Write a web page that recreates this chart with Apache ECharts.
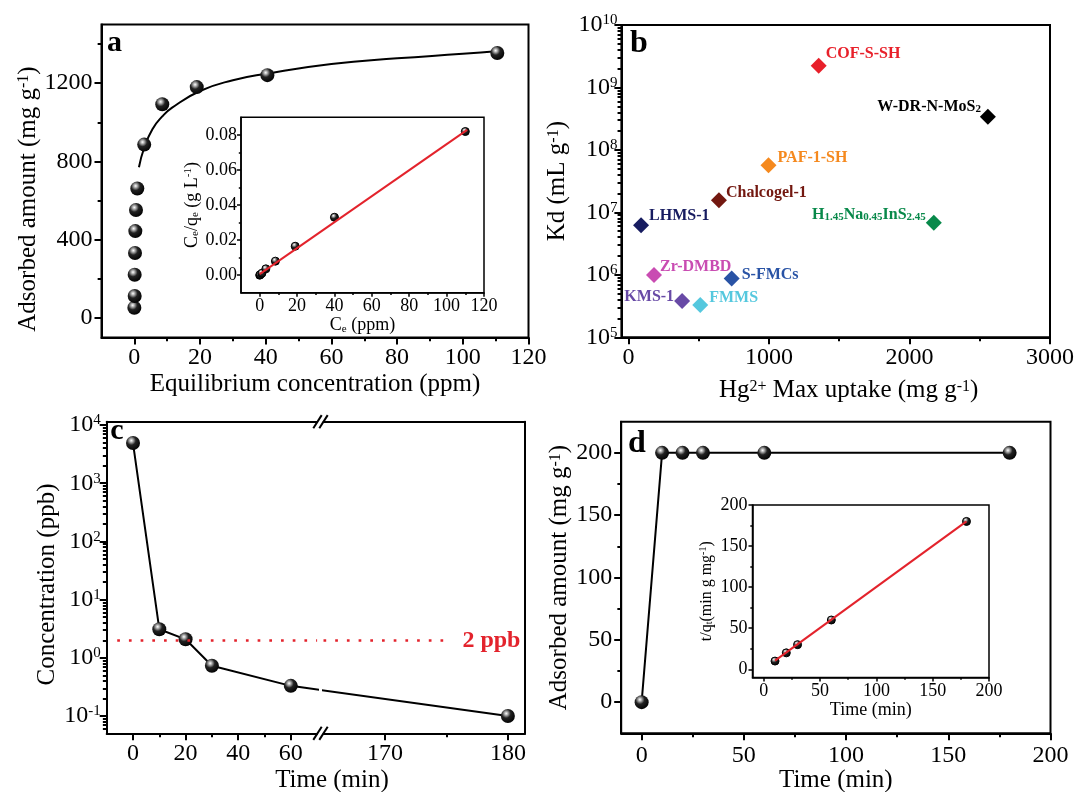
<!DOCTYPE html>
<html>
<head>
<meta charset="utf-8">
<script src="https://cdn.jsdelivr.net/npm/echarts@6/dist/echarts.min.js"></script>
<style>
html, body { margin: 0; padding: 0; background: #fff; }
#chart { width: 1076px; height: 792px; }
</style>
</head>
<body>
<div id="chart"></div>
<script>
// ---------- data ----------
// a: adsorption isotherm
var aCe = [0, 0.1, 0.1, 0.2, 0.3, 0.5, 0.9, 3, 8.5, 19, 40.5, 110.5];
var aQe = [52, 112, 221, 332, 444, 552, 662, 886, 1092, 1180, 1241, 1354];
var aCurveX = [1.4, 3, 5.5, 8.5, 11.5, 20, 30, 40, 60, 80, 100, 111];
var aCurveY = [770, 870, 965, 1030, 1075, 1160, 1215, 1248, 1298, 1327, 1350, 1365];
// a inset: Ce/qe vs Ce
var aInX = [0, 0.3, 1.2, 3.3, 8.4, 19, 40, 110];
var aInY = [0, 0.0003, 0.0011, 0.0036, 0.008, 0.0165, 0.033, 0.0819];
var aFitX = [0, 111];
var aFitY = [0.0006, 0.0828];
// b: Kd vs max uptake
var bNames = ['COF-S-SH', 'W-DR-N-MoS{s|2}', 'PAF-1-SH', 'Chalcogel-1', 'LHMS-1',
  'H{s|1.45}Na{s|0.45}InS{s|2.45}', 'Zr-DMBD', 'S-FMCs', 'KMS-1', 'FMMS'];
var bUptake = [1354, 2558, 997, 644, 90, 2173, 182, 735, 382, 511];
var bKd = [2.23e9, 3.4e8, 5.7e7, 1.57e7, 6.2e6, 6.8e6, 9.9e5, 8.7e5, 3.8e5, 3.3e5];
var bColors = ['#e8202a', '#000000', '#f5891e', '#731810', '#171c60', '#08894a',
  '#c94cb2', '#2953a5', '#684aa6', '#55c8de'];
// c: concentration vs time
var cTime = [0, 10, 20, 30, 60, 180];
var cConc = [4900, 3.1, 2.08, 0.73, 0.33, 0.1];
var cLimit = 2;
// d: uptake vs time
var dTime = [0, 10, 20, 30, 60, 180];
var dQt = [0, 200, 200, 200, 200, 200];
// d inset: t/qt vs t
var dInX = [10, 20, 30, 60, 180];
var dInY = [10, 20, 30, 60, 180];
var dFitX = [10, 180];
var dFitY = [10.5, 180];
// tick labels
var aXTicks = [0, 20, 40, 60, 80, 100, 120];
var aYTicks = [0, 400, 800, 1200];
var aInYTicks = [0, 0.02, 0.04, 0.06, 0.08];
var bXTicks = [0, 1000, 2000, 3000];
var cXTicksL = [0, 20, 40, 60];
var cXTicksR = [170, 180];
var dTicks = [0, 50, 100, 150, 200];

// ---------- helpers ----------
var SERIF = 'Liberation Serif';
var RED = '#e3232c';
var ball = { type: 'radial', x: 0.38, y: 0.32, r: 0.72, colorStops: [
  { offset: 0, color: '#ffffff' }, { offset: 0.16, color: '#b5b5b5' },
  { offset: 0.45, color: '#222222' }, { offset: 1, color: '#000000' }] };

function pairs(xs, ys) { return xs.map(function (x, i) { return [x, ys[i]]; }); }
function mids(t) { var o = []; for (var i = 0; i < t.length - 1; i++) o.push((t[i] + t[i + 1]) / 2); return o; }
function logMajor(lo, hi) {
  var o = [];
  for (var e = Math.ceil(Math.log10(lo) - 1e-9); e <= Math.floor(Math.log10(hi) + 1e-9); e++) o.push(Math.pow(10, e));
  return o;
}
function logMinor(lo, hi) {
  var o = [];
  for (var e = Math.floor(Math.log10(lo)); e <= Math.ceil(Math.log10(hi)); e++)
    for (var m = 2; m <= 9; m++) { var v = m * Math.pow(10, e); if (v > lo && v < hi) o.push(v); }
  return o;
}
function plain(v) { return String(v); }
function pow10(v) { return '10{sup|' + Math.round(Math.log10(v)) + '}'; }
function richFor(fs) {
  return {
    sup: { fontFamily: SERIF, fontSize: Math.round(fs * 0.62), lineHeight: Math.round(fs * 0.62), verticalAlign: 'top', color: '#000' },
    sub: { fontFamily: SERIF, fontSize: Math.round(fs * 0.62), lineHeight: Math.round(fs * 0.62), verticalAlign: 'bottom', color: '#000' }
  };
}

var xAxes = [], yAxes = [];
var minorList = [];
var majorOf = { x: {}, y: {} };
// one axis for the long ticks + labels, a twin axis for the short (minor) ticks
function addAxes(list, o) {
  var dim = list === xAxes ? 'x' : 'y';
  var lw = o.lw || 2, tl = o.tl || 7, fs = o.fs || 24;
  var major = {
    type: o.type || 'value', gridIndex: o.grid, position: o.pos, min: o.min, max: o.max,
    axisLine: { show: true, onZero: false, lineStyle: { color: '#000', width: lw } },
    axisTick: { show: !!o.major, inside: false, length: tl, customValues: o.major, lineStyle: { color: '#000', width: lw } },
    axisLabel: { show: !!o.major, customValues: o.major, margin: o.margin, color: '#000', fontFamily: SERIF, fontSize: fs,
      formatter: o.fmt || plain, rich: richFor(fs) },
    splitLine: { show: false }
  };
  if (o.name) {
    var nfs = o.nameFs || 25;
    major.name = o.name;
    major.nameLocation = 'middle';
    major.nameGap = o.nameGap;
    major.nameTextStyle = { color: '#000', fontFamily: SERIF, fontSize: nfs, rich: richFor(nfs), padding: o.namePad || 0 };
  }
  list.push(major);
  var idx = list.length - 1;
  if (majorOf[dim][o.grid] == null && o.pos !== 'top') majorOf[dim][o.grid] = idx;
  if (o.minor) {
    list.push({
      type: o.type || 'value', gridIndex: o.grid, position: o.pos, min: o.min, max: o.max,
      axisLine: { show: false, onZero: false },
      axisTick: { show: true, inside: false, length: tl * 0.55, customValues: o.minor, lineStyle: { color: '#000', width: lw } },
      axisLabel: { show: false, customValues: o.minor },
      splitLine: { show: false }
    });
    minorList.push({ dim: dim, grid: o.grid, idx: list.length - 1 });
  }
  return idx;
}

// ---------- grids ----------
var frame = { show: true, borderColor: '#000', borderWidth: 2, backgroundColor: '#fff', outerBoundsMode: 'none', containLabel: false };
var gA = { left: 101.5, top: 24.5, width: 427, height: 313 };
var gAi = { left: 241, top: 117.3, width: 243, height: 175.4 };
var gB = { left: 621.4, top: 25, width: 428.6, height: 312.3 };
var gCL = { left: 106.7, top: 421.7, width: 210.4, height: 311.6 };
var gCR = { left: 323.5, top: 421.7, width: 201.6, height: 311.6 };
var gD = { left: 621.2, top: 421.7, width: 429.3, height: 311.6 };
var gDi = { left: 752.5, top: 505, width: 236.5, height: 172.5 };
var grids = [
  Object.assign({}, frame, gA),
  Object.assign({}, frame, gAi, { borderWidth: 1.5 }),
  Object.assign({}, frame, gB),
  Object.assign({ outerBoundsMode: 'none', containLabel: false }, gCL),
  Object.assign({ outerBoundsMode: 'none', containLabel: false }, gCR),
  Object.assign({}, frame, gD),
  Object.assign({}, frame, gDi, { borderWidth: 1.5 })
];

// ---------- axes ----------
var axA = addAxes(xAxes, { grid: 0, pos: 'bottom', min: -10, max: 120, major: aXTicks, minor: mids(aXTicks),
  margin: 8, name: 'Equilibrium concentration (ppm)', nameGap: 34 });
var ayA = addAxes(yAxes, { grid: 0, pos: 'left', min: -100, max: 1500, major: aYTicks, minor: mids(aYTicks).concat([1400]),
  margin: 9, name: 'Adsorbed amount (mg g{sup|-1})', nameGap: 58, namePad: [0, 36, 0, 0] });

var axAi = addAxes(xAxes, { grid: 1, pos: 'bottom', min: -10, max: 120, major: aXTicks, minor: mids(aXTicks),
  margin: 5, tl: 4, lw: 1.5, fs: 18, nameFs: 18, name: 'C{sub|e} (ppm)', nameGap: 18 });
var ayAi = addAxes(yAxes, { grid: 1, pos: 'left', min: -0.01, max: 0.09, major: aInYTicks, minor: mids(aInYTicks),
  margin: 4, tl: 4, lw: 1.5, fs: 18, nameFs: 18, fmt: function (v) { return v.toFixed(2); },
  name: 'C{sub|e}/q{sub|e} (g L{sup|-1})', nameGap: 40 });

var axB = addAxes(xAxes, { grid: 2, pos: 'bottom', min: -50, max: 3000, major: bXTicks, minor: mids(bXTicks),
  margin: 8, name: 'Hg{sup|2+} Max uptake (mg g{sup|-1})', nameGap: 41, namePad: [0, 0, 0, 26] });
var ayB = addAxes(yAxes, { grid: 2, pos: 'left', type: 'log', min: 1e5, max: 1e10, major: logMajor(1e5, 1e10), minor: logMinor(1e5, 1e10),
  margin: 4, fmt: pow10, name: 'Kd (mL g{sup|-1})', nameGap: 51 });

// c: broken time axis made of two grids
var cMin = 0.0505, cMax = 11400;
var cLRange = [-10, 70], cRRange = [165, 181.4];
var axCL = addAxes(xAxes, { grid: 3, pos: 'bottom', min: cLRange[0], max: cLRange[1], major: cXTicksL, minor: mids(cXTicksL), margin: 8 });
addAxes(xAxes, { grid: 3, pos: 'top', min: cLRange[0], max: cLRange[1] });
var ayCL = addAxes(yAxes, { grid: 3, pos: 'left', type: 'log', min: cMin, max: cMax, major: logMajor(cMin, cMax), minor: logMinor(cMin, cMax),
  margin: 6, fmt: pow10, name: 'Concentration (ppb)', nameGap: 42, namePad: [0, 14, 0, 0] });
var axCR = addAxes(xAxes, { grid: 4, pos: 'bottom', min: cRRange[0], max: cRRange[1], major: cXTicksR, minor: mids(cXTicksR), margin: 8 });
addAxes(xAxes, { grid: 4, pos: 'top', min: cRRange[0], max: cRRange[1] });
var ayCR = addAxes(yAxes, { grid: 4, pos: 'right', type: 'log', min: cMin, max: cMax });

// the segment that jumps the break is straight on screen: give it its own hidden x scale in each grid
var cPts = pairs(cTime, cConc);
var cLeftPts = cPts.filter(function (p) { return p[0] <= cLRange[1]; });
var cRightPts = cPts.filter(function (p) { return p[0] >= cRRange[0]; });
var cBridge = [cLeftPts[cLeftPts.length - 1], cRightPts[0]];
function pxOf(g, r, v) { return g.left + (v - r[0]) / (r[1] - r[0]) * g.width; }
var pA = pxOf(gCL, cLRange, cBridge[0][0]), pB = pxOf(gCR, cRRange, cBridge[1][0]);
var slope = (pB - pA) / (cBridge[1][0] - cBridge[0][0]);
var bridgeL = cBridge[0][0] - (pA - gCL.left) / slope;
var bridgeR = cBridge[1][0] - (pB - gCR.left) / slope;
xAxes.push({ type: 'value', gridIndex: 3, show: false, min: bridgeL, max: bridgeL + gCL.width / slope });
var axCLb = xAxes.length - 1;
xAxes.push({ type: 'value', gridIndex: 4, show: false, min: bridgeR, max: bridgeR + gCR.width / slope });
var axCRb = xAxes.length - 1;

var axD = addAxes(xAxes, { grid: 5, pos: 'bottom', min: -10, max: 200, major: dTicks, minor: mids(dTicks),
  margin: 10, name: 'Time (min)', nameGap: 31 });
var ayD = addAxes(yAxes, { grid: 5, pos: 'left', min: -25, max: 225, major: dTicks, minor: mids(dTicks),
  margin: 9, name: 'Adsorbed amount (mg g{sup|-1})', nameGap: 46 });

var axDi = addAxes(xAxes, { grid: 6, pos: 'bottom', min: -10, max: 200, major: dTicks, minor: mids(dTicks),
  margin: 5, tl: 4, lw: 1.5, fs: 18, nameFs: 18, name: 'Time (min)', nameGap: 23 });
var ayDi = addAxes(yAxes, { grid: 6, pos: 'left', min: -10, max: 200, major: dTicks, minor: mids(dTicks),
  margin: 5, tl: 4, lw: 1.5, fs: 18, nameFs: 16, name: 't/q{sub|t}(min g mg{sup|-1})', nameGap: 38 });
majorOf.y[4] = ayCR;

// ---------- panel b points with labels ----------
var bLabelSide = ['right', 'left', 'right', 'right', 'right', 'left', 'right', 'right', 'left', 'right'];
var bLabelOffset = [[-1, -12], [1, -10], [1, -7], [-1, -7], [0, -9], [0, -8], [-2, -8], [2, -4], [0, -4], [1, -7]];
var bData = bUptake.map(function (x, i) {
  return {
    value: [x, bKd[i]],
    itemStyle: { color: bColors[i], opacity: 1 },
    label: {
      show: true, position: bLabelSide[i], distance: 0, offset: bLabelOffset[i],
      formatter: bNames[i], color: bColors[i], fontFamily: SERIF, fontWeight: 'bold', fontSize: 16, opacity: 1,
      rich: { s: { fontFamily: SERIF, fontWeight: 'bold', fontSize: 11, verticalAlign: 'bottom', lineHeight: 11, color: bColors[i] } }
    }
  };
});

var ballStyle = { color: ball, borderWidth: 0, opacity: 1 };
var dotted = { color: RED, width: 2.7, type: [2.7, 9] };

var series = [
  // a
  { type: 'line', xAxisIndex: axA, yAxisIndex: ayA, data: pairs(aCurveX, aCurveY), smooth: true,
    symbol: 'none', lineStyle: { color: '#000', width: 2 }, z: 2 },
  { type: 'scatter', xAxisIndex: axA, yAxisIndex: ayA, data: pairs(aCe, aQe), symbolSize: 14, itemStyle: ballStyle, z: 3 },
  // a inset
  { type: 'line', xAxisIndex: axAi, yAxisIndex: ayAi, data: pairs(aFitX, aFitY), symbol: 'none',
    lineStyle: { color: RED, width: 2 }, z: 5 },
  { type: 'scatter', xAxisIndex: axAi, yAxisIndex: ayAi, data: pairs(aInX, aInY), symbolSize: 8,
    itemStyle: { color: ball, borderColor: '#000', borderWidth: 1, opacity: 1 }, z: 4 },
  // b
  { type: 'scatter', xAxisIndex: axB, yAxisIndex: ayB, data: bData, symbol: 'diamond', symbolSize: 16 },
  // c, left of the break
  { type: 'line', xAxisIndex: axCL, yAxisIndex: ayCL, data: cLeftPts,
    symbol: 'circle', symbolSize: 14, showAllSymbol: true, itemStyle: ballStyle, lineStyle: { color: '#000', width: 2 }, z: 3,
    markLine: { silent: true, symbol: ['none', 'none'], label: { show: false }, lineStyle: dotted,
      data: [[{ coord: [-6, cLimit] }, { coord: [cLRange[1], cLimit] }]] } },
  // c, segment across the break
  { type: 'line', xAxisIndex: axCLb, yAxisIndex: ayCL, data: cBridge, symbol: 'none', clip: true,
    lineStyle: { color: '#000', width: 2 }, z: 2 },
  { type: 'line', xAxisIndex: axCRb, yAxisIndex: ayCR, data: cBridge, symbol: 'none', clip: true,
    lineStyle: { color: '#000', width: 2 }, z: 2 },
  // c, right of the break
  { type: 'line', xAxisIndex: axCR, yAxisIndex: ayCR, data: cRightPts,
    symbol: 'circle', symbolSize: 14, showAllSymbol: true, itemStyle: ballStyle, lineStyle: { color: '#000', width: 2 }, z: 3,
    markLine: { silent: true, symbol: ['none', 'none'], lineStyle: dotted,
      label: { show: true, position: 'end', distance: 16, formatter: cLimit + ' ppb', color: RED,
        fontFamily: SERIF, fontWeight: 'bold', fontSize: 24 },
      data: [[{ coord: [cRRange[0], cLimit] }, { coord: [175, cLimit] }]] } },
  // d
  { type: 'line', xAxisIndex: axD, yAxisIndex: ayD, data: pairs(dTime, dQt),
    symbol: 'circle', symbolSize: 14, showAllSymbol: true, itemStyle: ballStyle, lineStyle: { color: '#000', width: 2 } },
  // d inset
  { type: 'line', xAxisIndex: axDi, yAxisIndex: ayDi, data: pairs(dFitX, dFitY), symbol: 'none',
    lineStyle: { color: RED, width: 2 }, z: 5 },
  { type: 'scatter', xAxisIndex: axDi, yAxisIndex: ayDi, data: pairs(dInX, dInY), symbolSize: 8,
    itemStyle: { color: ball, borderColor: '#000', borderWidth: 1, opacity: 1 }, z: 4 }
];
// keep every minor-tick axis attached to its panel's data (drawn invisibly)
var gridData = { 0: pairs(aCe, aQe), 1: pairs(aInX, aInY), 2: pairs(bUptake, bKd), 3: cLeftPts, 4: cRightPts,
  5: pairs(dTime, dQt), 6: pairs(dInX, dInY) };
minorList.forEach(function (m) {
  series.push({ type: 'line', data: gridData[m.grid], silent: true, symbol: 'none', z: 0,
    lineStyle: { width: 0, opacity: 0 }, itemStyle: { opacity: 0 },
    xAxisIndex: m.dim === 'x' ? m.idx : majorOf.x[m.grid],
    yAxisIndex: m.dim === 'y' ? m.idx : majorOf.y[m.grid] });
});

function letter(t, x, y, size) {
  return { type: 'text', x: x, y: y, style: { text: t, font: 'bold ' + size + 'px "Liberation Serif"', fill: '#000',
    align: 'center', verticalAlign: 'middle', textAlign: 'center', textVerticalAlign: 'middle' } };
}
function slash(x, y) {
  return { type: 'line', shape: { x1: x - 4.2, y1: y + 6.6, x2: x + 4.2, y2: y - 6.6 }, style: { stroke: '#000', lineWidth: 2 } };
}

var option = {
  animation: false,
  backgroundColor: '#fff',
  grid: grids,
  xAxis: xAxes,
  yAxis: yAxes,
  series: series,
  graphic: [
    letter('a', 114.5, 43, 30),
    letter('b', 639, 44, 32),
    letter('c', 117, 431, 30),
    letter('d', 637, 444, 32),
    { type: 'text', x: 332, y: 780, style: { text: 'Time (min)', font: '25px "Liberation Serif"', fill: '#000',
      align: 'center', verticalAlign: 'middle', textAlign: 'center', textVerticalAlign: 'middle' } },
    // axis break marks on panel c
    slash(317.5, 421.7), slash(323.5, 421.7), slash(317.5, 733.3), slash(323.5, 733.3)
  ]
};

var chart = echarts.init(document.getElementById('chart'), null, { renderer: 'canvas' });
chart.setOption(option);
</script>
</body>
</html>
